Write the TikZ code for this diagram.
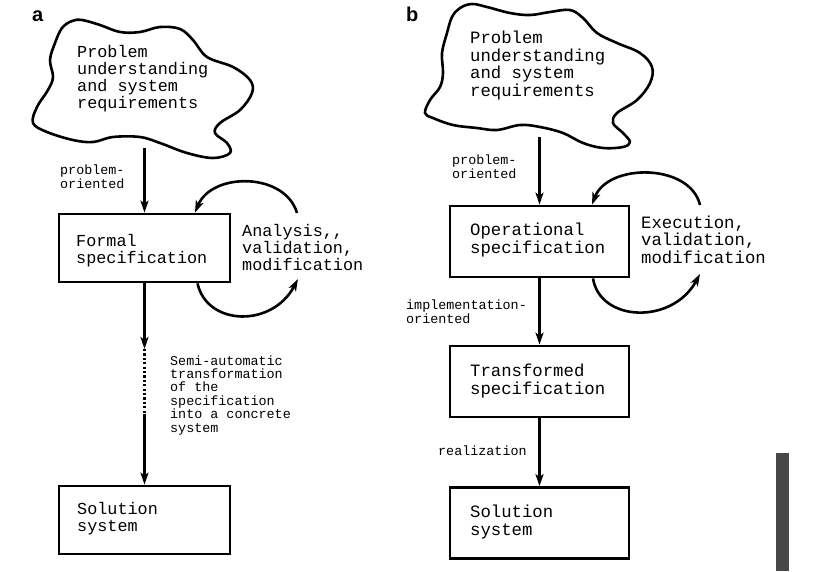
\documentclass[tikz,border=0pt]{standalone}
\usepackage{fontspec}
\setmainfont{Liberation Serif}
\newfontfamily\monofont{Liberation Mono}
\newfontfamily\labfont{Liberation Sans}
\usetikzlibrary{arrows.meta,calc}
\begin{document}
\begin{tikzpicture}[x=1pt,y=-1pt,
  txta/.style={font=\monofont\fontsize{16.8}{16.8}\selectfont, inner sep=0pt, anchor=base west, align=left},
  txtb/.style={font=\monofont\fontsize{17.3}{17.5}\selectfont, inner sep=0pt, anchor=base west, align=left},
  small/.style={font=\monofont\fontsize{13.4}{13.4}\selectfont, inner sep=0pt, anchor=base west, align=left},
  boxa/.style={draw, line width=2.8pt, inner sep=0pt, minimum width=171pt, minimum height=68pt},
  boxb/.style={draw, line width=2.8pt, inner sep=0pt, minimum width=179pt, minimum height=71pt},
  cloud/.style={line width=2.6pt, line join=round},
  arr/.style={line width=2.4pt, -{Stealth[length=12pt,width=8pt,inset=3pt]}},
  loopline/.style={line width=2.6pt, -{Stealth[length=12pt,width=8pt,inset=3pt]}},
  dots/.style={line width=2.6pt, dash pattern=on 2.2pt off 2.2pt},
  panel/.style={font=\labfont\bfseries\fontsize{20}{20}\selectfont, inner sep=0pt, anchor=base west}
]
\useasboundingbox (0,0) rectangle (819,571);

% ---------------- panel a ----------------
\node[panel] (la) at (32,21) {a};
\draw[cloud] plot[smooth cycle, tension=0.6] coordinates {
 (62,28) (72,21) (82,20) (100,25) (120,32) (140,32) (160,27) (180,29) (193,40)
 (207,57) (233,67) (250,80) (252,93) (240,110) (220,123) (215,133) (227,143)
 (230,153) (213,158) (187,153) (160,143) (140,137) (113,137) (93,142) (73,140)
 (47,132) (33,123) (37,107) (48,90) (53,77) (50,60) (55,43)};
\node[txta] (pa) at (77,108) {Problem\\understanding\\and system\\requirements};
\coordinate (ca) at (144.5,148);

\node[boxa] (fa) at (144.5,248) {};
\node[txta] (fat) at (76,263) {Formal\\specification};
\node[small] (poa) at (60,188) {problem-\\oriented};
\draw[arr] (ca) -- (fa.north);

\coordinate (ta1) at (297,213);
\coordinate (ba2) at (298,279);
\draw[loopline] (ta1) .. controls (285,172) and (212,172) .. ([xshift=50.5pt]fa.north);
\draw[loopline] ([xshift=53pt]fa.south) .. controls (207,326) and (272,328) .. (ba2);
\node[txta] (ava) at (242,270) {Analysis,,\\validation,\\modification};

\coordinate (d1) at (144.5,349);
\coordinate (d2) at (144.5,414);
\node[boxa] (sa) at (144.5,520) {};
\node[txta] (sat) at (77,531) {Solution\\system};
\draw[arr] (fa.south) -- (d1);
\draw[dots] (d1) -- (d2);
\draw[arr] (d2) -- (sa.north);
\node[small] (sma) at (170,432) {Semi-automatic\\transformation\\of the\\specification\\into a concrete\\system};

% ---------------- panel b ----------------
\node[panel] (lb) at (406,21) {b};
\draw[cloud] plot[smooth cycle, tension=0.6] coordinates {
 (460,8) (472,4) (487,7) (510,13) (530,15) (550,12) (570,10) (583,18) (597,33)
 (617,43) (640,53) (652,67) (650,83) (637,100) (617,113) (613,123) (623,133)
 (630,142) (623,147) (603,148) (583,143) (563,133) (540,127) (520,125) (497,130)
 (477,128) (453,125) (433,118) (425,113) (430,100) (440,87) (443,73) (442,53)
 (447,33) (452,17)};
\node[txtb] (pb) at (470,96) {Problem\\understanding\\and system\\requirements};
\coordinate (cb) at (539.5,137);

\node[boxb] (ob) at (539.5,241.5) {};
\node[txtb] (obt) at (470,253) {Operational\\specification};
\node[small] (pob) at (452,178) {problem-\\oriented};
\draw[arr] (cb) -- (ob.north);

\coordinate (tb1) at (700,205);
\coordinate (bb2) at (700,274);
\draw[loopline] (tb1) .. controls (690,163) and (608,163) .. ([xshift=52.5pt]ob.north);
\draw[loopline] ([xshift=53.5pt]ob.south) .. controls (600,322) and (672,325) .. (bb2);
\node[txtb] (evb) at (641,263) {Execution,\\validation,\\modification};

\node[boxb] (tb) at (539.5,381.5) {};
\node[txtb] (tbt) at (470,394) {Transformed\\specification};
\node[small] (iob) at (406,323) {implementation-\\oriented};
\draw[arr] (ob.south) -- (tb.north);

\node[boxb] (sb) at (539.5,523) {};
\node[txtb] (sbt) at (470,535) {Solution\\system};
\node[small] (rb) at (438,455) {realization};
\draw[arr] (tb.south) -- (sb.north);

% dark bar
\fill[black!72] (776,453) rectangle (789,571);
\end{tikzpicture}
\end{document}
